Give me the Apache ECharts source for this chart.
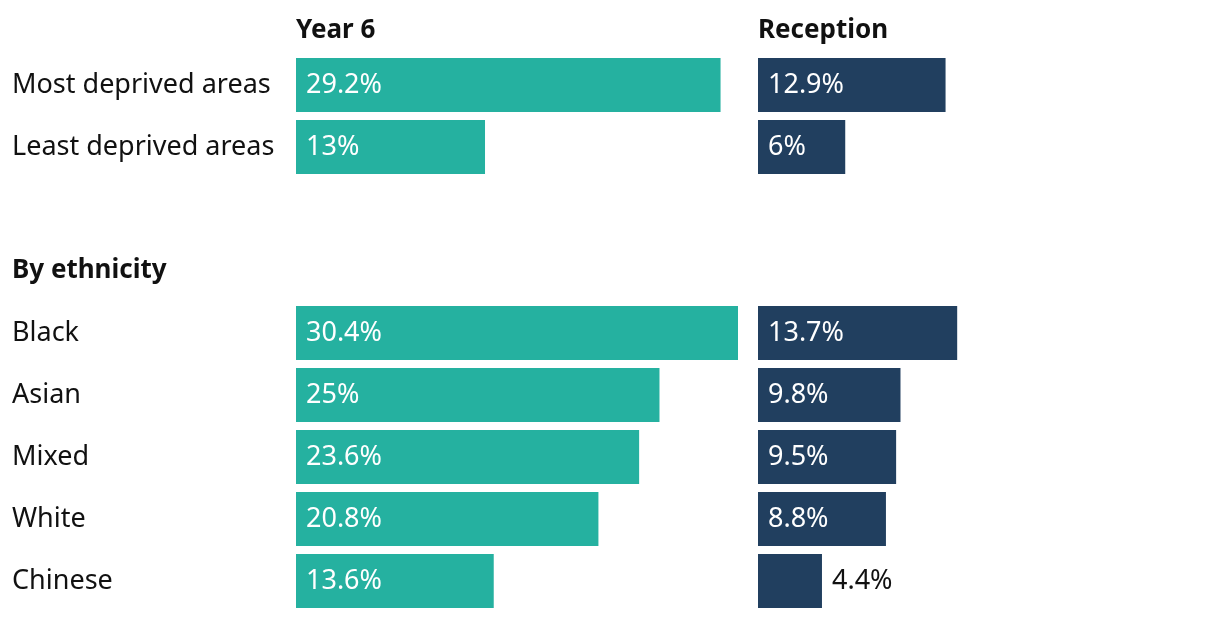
<!DOCTYPE html>
<html><head><meta charset="utf-8">
<script src="https://cdn.jsdelivr.net/npm/echarts@6/dist/echarts.min.js"></script>
<style>html,body{margin:0;padding:0;background:#fff}#c{width:1220px;height:618px}</style>
</head><body><div id="c"></div>
<script>
var categories = ['Most deprived areas','Least deprived areas','','By ethnicity','Black','Asian','Mixed','White','Chinese'];
var year6 = [29.2, 13, null, null, 30.4, 25, 23.6, 20.8, 13.6];
var reception = [12.9, 6, null, null, 13.7, 9.8, 9.5, 8.8, 4.4];
var panelTitles = ['Year 6', 'Reception'];
var headingCategory = 'By ethnicity';

var FONT = 'Noto Sans';
var FS = 27, FSB = 26;
var chart = echarts.init(document.getElementById('c'), null, {renderer:'canvas'});
function labelFor(v){
  var inside = v >= 5;
  return {
    value: v,
    label: inside ? {show:true, position:'insideLeft', distance:10, color:'#fff'} :
                    {show:true, position:'right', distance:10, color:'#111'}
  };
}
function seriesData(arr){ return arr.map(function(v){ return v==null ? null : labelFor(v); }); }
var XMAX = 30.4;
chart.setOption({
  animation:false,
  title:[
    {text:panelTitles[0], left:296, top:18, padding:0, textStyle:{fontFamily:FONT, fontWeight:'bold', fontSize:FSB, color:'#111'}},
    {text:panelTitles[1], left:758, top:18, padding:0, textStyle:{fontFamily:FONT, fontWeight:'bold', fontSize:FSB, color:'#111'}}
  ],
  grid:[
    {left:296, top:54, width:442, height:558},
    {left:758, top:54, width:442, height:558}
  ],
  xAxis:[
    {gridIndex:0, type:'value', min:0, max:XMAX, show:false},
    {gridIndex:1, type:'value', min:0, max:XMAX, show:false}
  ],
  yAxis:[
    {gridIndex:0, type:'category', inverse:true, data:categories,
     axisLine:{show:false}, axisTick:{show:false}, splitLine:{show:false},
     axisLabel:{align:'left', margin:284, fontFamily:FONT, fontSize:FS, color:'#111',
       formatter:function(v){ return v===headingCategory ? '{b|'+v+'}' : v; },
       rich:{b:{fontFamily:FONT, fontSize:FSB, fontWeight:'bold', color:'#111'}}}},
    {gridIndex:1, type:'category', inverse:true, data:categories, show:false}
  ],
  series:[
    {type:'bar', xAxisIndex:0, yAxisIndex:0, data:seriesData(year6), barWidth:54,
     itemStyle:{color:'#25b1a0'}, label:{fontFamily:FONT, fontSize:FS, formatter:'{c}%'}},
    {type:'bar', xAxisIndex:1, yAxisIndex:1, data:seriesData(reception), barWidth:54,
     itemStyle:{color:'#213f5f'}, label:{fontFamily:FONT, fontSize:FS, formatter:'{c}%'}}
  ]
});
</script></body></html>
